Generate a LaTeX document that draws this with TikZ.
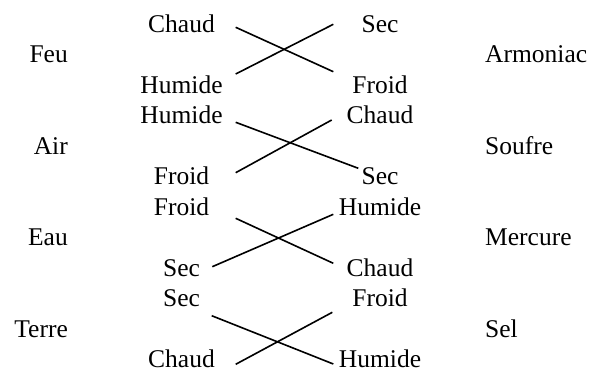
\documentclass[tikz,border=0pt]{standalone}
\usepackage{fontspec}
\setmainfont{Liberation Serif}
\begin{document}
\begin{tikzpicture}[x=1pt,y=-1pt,
  word/.style={inner sep=0pt,font=\fontsize{25.5}{30}\selectfont},
  elem/.style={word,anchor=base east},
  metal/.style={word,anchor=base west},
  qual/.style={word,anchor=base},
  link/.style={line width=1.6pt}]
\useasboundingbox (0,0) rectangle (591,372);
% baselines
\def\bl#1{32+30.5*#1}
% elements (left)
\node[elem] (feu) at (68,{\bl{1}}) {Feu};
\node[elem] (air) at (68,{\bl{4}}) {Air};
\node[elem] (eau) at (68,{\bl{7}}) {Eau};
\node[elem] (terre) at (68,{\bl{10}}) {Terre};
% metals (right)
\node[metal] (armoniac) at (485,{\bl{1}}) {Armoniac};
\node[metal] (soufre) at (485,{\bl{4}}) {Soufre};
\node[metal] (mercure) at (485,{\bl{7}}) {Mercure};
\node[metal] (sel) at (485,{\bl{10}}) {Sel};
% qualities left column
\node[qual] (l1) at (181.5,{\bl{0}}) {Chaud};
\node[qual] (l2) at (181.5,{\bl{2}}) {Humide};
\node[qual] (l3) at (181.5,{\bl{3}}) {Humide};
\node[qual] (l4) at (181.5,{\bl{5}}) {Froid};
\node[qual] (l5) at (181.5,{\bl{6}}) {Froid};
\node[qual] (l6) at (181.5,{\bl{8}}) {Sec};
\node[qual] (l7) at (181.5,{\bl{9}}) {Sec};
\node[qual] (l8) at (181.5,{\bl{11}}) {Chaud};
% qualities right column
\node[qual] (r1) at (380,{\bl{0}}) {Sec};
\node[qual] (r2) at (380,{\bl{2}}) {Froid};
\node[qual] (r3) at (380,{\bl{3}}) {Chaud};
\node[qual] (r4) at (380,{\bl{5}}) {Sec};
\node[qual] (r5) at (380,{\bl{6}}) {Humide};
\node[qual] (r6) at (380,{\bl{8}}) {Chaud};
\node[qual] (r7) at (380,{\bl{9}}) {Froid};
\node[qual] (r8) at (380,{\bl{11}}) {Humide};
% connector end points
\coordinate (a1) at (235.7,27.3);  \coordinate (b1) at (333.3,71.7);
\coordinate (a2) at (235.7,74);    \coordinate (b2) at (333.3,24.3);
\coordinate (a3) at (235.7,122.3); \coordinate (b3) at (358.3,168.3);
\coordinate (a4) at (235.7,172.7); \coordinate (b4) at (331.7,120);
\coordinate (a5) at (235.7,218.3); \coordinate (b5) at (333.3,263.3);
\coordinate (a6) at (212.3,266.7); \coordinate (b6) at (333.3,214.3);
\coordinate (a7) at (211.7,315.7); \coordinate (b7) at (333.3,364);
\coordinate (a8) at (235.7,364.3); \coordinate (b8) at (332.3,312.3);
\foreach \i in {1,...,8} {\draw[link] (a\i) -- (b\i);}
\end{tikzpicture}
\end{document}
